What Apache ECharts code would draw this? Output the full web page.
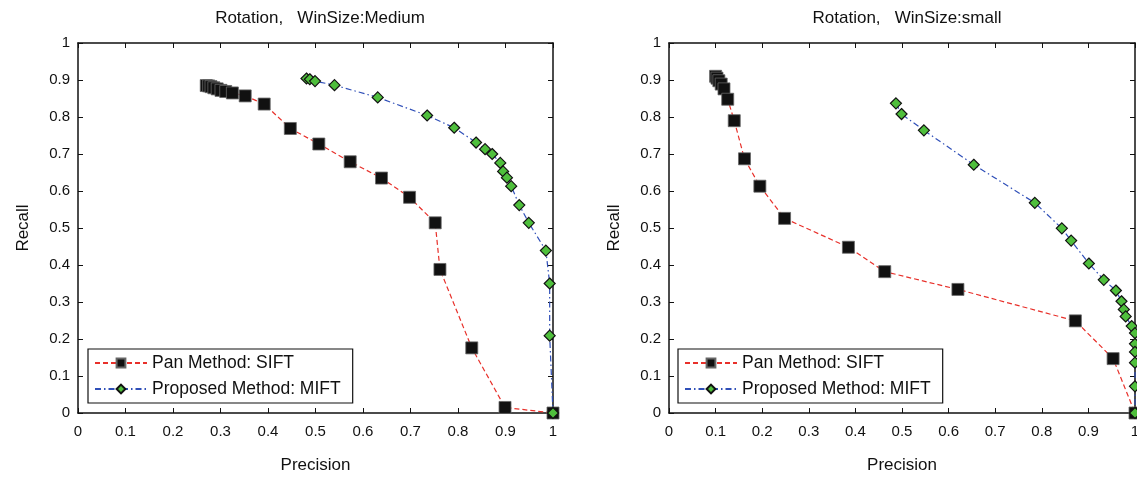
<!doctype html>
<html>
<head>
	<meta charset="utf-8">
	<title>Rotation precision-recall</title>
	<style>
		html, body { margin: 0; padding: 0; background: #fff; }
		#main { width: 1137px; height: 478px; }
	</style>
</head>
<body>
<div id="main"></div>
<script src="https://cdn.jsdelivr.net/npm/echarts@6/dist/echarts.min.js"></script>
<script>
	// tick labels
	var ticks = [0, 0.1, 0.2, 0.3, 0.4, 0.5, 0.6, 0.7, 0.8, 0.9, 1]
	var titles = ['Rotation,   WinSize:Medium', 'Rotation,   WinSize:small']
	var seriesNames = ['Pan Method: SIFT', 'Proposed Method: MIFT']

	// left plot (Medium): [precision, recall]
	var leftSift = [[0.270, 0.885], [0.275, 0.884], [0.280, 0.882], [0.286, 0.879], [0.293, 0.876], [0.301, 0.872],
		[0.311, 0.869], [0.325, 0.865], [0.352, 0.857], [0.392, 0.835], [0.447, 0.769], [0.507, 0.727],
		[0.573, 0.679], [0.639, 0.635], [0.698, 0.583], [0.752, 0.514], [0.762, 0.388], [0.829, 0.176],
		[0.899, 0.015], [1.0, 0.0]]
	var leftMift = [[0.481, 0.904], [0.488, 0.902], [0.499, 0.897], [0.540, 0.886], [0.631, 0.853], [0.735, 0.804],
		[0.792, 0.771], [0.838, 0.731], [0.857, 0.713], [0.872, 0.700], [0.889, 0.676], [0.895, 0.653],
		[0.903, 0.636], [0.912, 0.613], [0.929, 0.562], [0.949, 0.514], [0.985, 0.439], [0.993, 0.350],
		[0.993, 0.209], [1.0, 0.0]]

	// right plot (small): [precision, recall]
	var rightSift = [[0.100, 0.910], [0.103, 0.905], [0.107, 0.898], [0.112, 0.889], [0.118, 0.876], [0.126, 0.848],
		[0.140, 0.790], [0.162, 0.687], [0.195, 0.613], [0.248, 0.526], [0.385, 0.448], [0.463, 0.382],
		[0.620, 0.334], [0.872, 0.249], [0.953, 0.147], [1.0, 0.0]]
	var rightMift = [[0.487, 0.837], [0.499, 0.808], [0.547, 0.764], [0.654, 0.671], [0.785, 0.568], [0.843, 0.499],
		[0.863, 0.466], [0.901, 0.404], [0.933, 0.360], [0.959, 0.331], [0.971, 0.302], [0.976, 0.280],
		[0.980, 0.261], [0.993, 0.235], [1.0, 0.216], [1.0, 0.187], [1.0, 0.165], [1.0, 0.136],
		[1.0, 0.072], [1.0, 0.0]]

	var font = 'Liberation Sans, Arial, Helvetica, sans-serif'
	var grids = [
		{left: 78, top: 43, width: 475, height: 370, outerBoundsMode: 'none', containLabel: false},
		{left: 669, top: 43, width: 466, height: 370, outerBoundsMode: 'none', containLabel: false}
	]

	function mainAxis(gi, pos, name, gap) {
		return {
			type: 'value', gridIndex: gi, position: pos,
			min: ticks[0], max: ticks[ticks.length - 1], interval: 0.1,
			name: name, nameLocation: 'middle', nameGap: gap,
			nameTextStyle: {fontFamily: font, fontSize: 17, color: '#111'},
			axisLine: {show: true, onZero: false, lineStyle: {color: '#111', width: 1.5}},
			axisTick: {show: true, inside: true, length: 5, lineStyle: {color: '#111'}},
			axisLabel: {fontFamily: font, fontSize: 15, color: '#111', margin: pos == 'bottom' ? 11 : 8},
			splitLine: {show: false}
		}
	}
	function boxAxis(gi, pos) {
		return {
			type: 'value', gridIndex: gi, position: pos,
			min: ticks[0], max: ticks[ticks.length - 1], interval: 0.1,
			axisLine: {show: true, onZero: false, lineStyle: {color: '#111', width: 1.5}},
			axisTick: {show: true, inside: true, length: 5, lineStyle: {color: '#111'}},
			axisLabel: {show: false},
			splitLine: {show: false}
		}
	}

	function siftSeries(data, xi, yi) {
		return {
			name: seriesNames[0], type: 'line', data: data,
			xAxisIndex: xi, yAxisIndex: yi, clip: false,
			symbol: 'rect', symbolSize: 12,
			itemStyle: {color: '#111', borderColor: '#666', borderWidth: 0.8},
			lineStyle: {color: '#e8302a', width: 1.2, type: [5, 3]},
			emphasis: {disabled: true}, animation: false
		}
	}
	function miftSeries(data, xi, yi) {
		return {
			name: seriesNames[1], type: 'line', data: data,
			xAxisIndex: xi, yAxisIndex: yi, clip: false,
			symbol: 'diamond', symbolSize: 11,
			itemStyle: {color: '#4fbf3c', borderColor: '#111', borderWidth: 1.2},
			lineStyle: {color: '#2f4fb8', width: 1.2, type: [6, 3, 1.5, 3]},
			emphasis: {disabled: true}, animation: false
		}
	}

	function legendAt(left) {
		return {
			data: seriesNames, orient: 'vertical', left: left, top: 349,
			itemWidth: 52, itemHeight: 11, itemGap: 8,
			padding: [5, 12, 5, 6],
			backgroundColor: '#fff', borderColor: '#111', borderWidth: 1.2, borderRadius: 0,
			textStyle: {fontFamily: font, fontSize: 17.5, color: '#111'},
			selectedMode: false
		}
	}

	var myChart = echarts.init(document.getElementById('main'))
	var option = {
		backgroundColor: '#fff',
		animation: false,
		title: [
			{text: titles[0], left: 315, top: 5, textAlign: 'center',
				textStyle: {fontFamily: font, fontSize: 17, fontWeight: 'normal', color: '#111'}},
			{text: titles[1], left: 902, top: 5, textAlign: 'center',
				textStyle: {fontFamily: font, fontSize: 17, fontWeight: 'normal', color: '#111'}}
		],
		grid: grids,
		xAxis: [
			mainAxis(0, 'bottom', 'Precision', 44),
			boxAxis(0, 'top'),
			mainAxis(1, 'bottom', 'Precision', 44),
			boxAxis(1, 'top')
		],
		yAxis: [
			mainAxis(0, 'left', 'Recall', 46),
			boxAxis(0, 'right'),
			mainAxis(1, 'left', 'Recall', 46),
			boxAxis(1, 'right')
		],
		legend: [legendAt(88), legendAt(678)],
		series: [
			siftSeries(leftSift, 0, 0),
			miftSeries(leftMift, 0, 0),
			siftSeries(rightSift, 2, 2),
			miftSeries(rightMift, 2, 2)
		]
	}
	myChart.setOption(option)
</script>
</body>
</html>
